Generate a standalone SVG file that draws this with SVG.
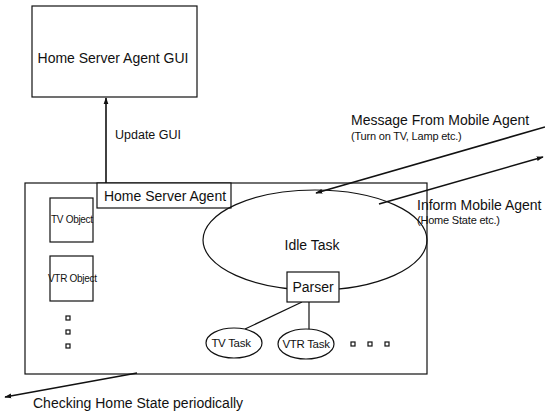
<svg xmlns="http://www.w3.org/2000/svg" width="545" height="414" viewBox="0 0 545 414">
<defs>
<style>
.box{fill:none;stroke:#111;stroke-width:1.2}
.wbox{fill:#fff;stroke:#111;stroke-width:1.2}
.ln{fill:none;stroke:#111;stroke-width:1.2}
.arw{fill:none;stroke:#111;stroke-width:1.6}
.t{font-family:"Liberation Sans",Arial,sans-serif;fill:#111}
.l{font-size:14px}
.m{font-size:11.5px;letter-spacing:-0.3px}
.s{font-size:11px;letter-spacing:-0.2px}
.o{font-size:10px;letter-spacing:-0.3px}
.dot{fill:#fff;stroke:#111;stroke-width:1.2}
</style>
<marker id="ah" viewBox="0 0 10 10" refX="9" refY="5" markerWidth="7" markerHeight="7" orient="auto" markerUnits="userSpaceOnUse">
<path d="M0,1.5 L10,5 L0,8.5 Z" fill="#111"/>
</marker>
</defs>
<rect width="545" height="414" fill="#fff"/>
<g id="gui">
<rect class="box" x="32" y="6" width="165" height="91"/>
<text class="t l" x="113" y="63" text-anchor="middle">Home Server Agent GUI</text>
</g>
<g id="main">
<rect class="box" x="25" y="183" width="402" height="191"/>
</g>
<g id="hsa">
<rect class="wbox" x="97" y="183" width="134" height="25"/>
<text class="t l" x="165" y="201" text-anchor="middle">Home Server Agent</text>
</g>
<g id="tvobj">
<rect class="box" x="50" y="198" width="43" height="44"/>
<text class="t o" x="51" y="223">TV Object</text>
</g>
<g id="vtrobj">
<rect class="box" x="50" y="256" width="43" height="45"/>
<text class="t o" x="48" y="282">VTR Object</text>
</g>
<g id="objdots">
<rect class="dot" x="66" y="316" width="4" height="4"/>
<rect class="dot" x="66" y="330" width="4" height="4"/>
<rect class="dot" x="66" y="344" width="4" height="4"/>
</g>
<g id="idle">
<ellipse class="box" cx="315" cy="240" rx="112" ry="50"/>
<text class="t l" x="312" y="250" text-anchor="middle">Idle Task</text>
</g>
<g id="connectors">
<line class="arw" x1="106" y1="183" x2="106" y2="98" marker-end="url(#ah)"/>
<line class="arw" x1="545" y1="127" x2="316" y2="193" marker-end="url(#ah)"/>
<line class="arw" x1="379" y1="204" x2="543" y2="157" marker-end="url(#ah)"/>
<line class="arw" x1="137" y1="373" x2="5" y2="397" marker-end="url(#ah)"/>
<line class="ln" x1="302" y1="302" x2="245" y2="329"/>
<line class="ln" x1="309" y1="302" x2="309" y2="330"/>
</g>
<g id="parser">
<rect class="wbox" x="287" y="272" width="52" height="30"/>
<text class="t l" x="313" y="292" text-anchor="middle">Parser</text>
</g>
<g id="tvtask">
<ellipse class="wbox" cx="234" cy="343" rx="28" ry="15"/>
<text class="t m" x="231" y="347" text-anchor="middle">TV Task</text>
</g>
<g id="vtrtask">
<ellipse class="wbox" cx="306" cy="344" rx="28" ry="15"/>
<text class="t m" x="306" y="348" text-anchor="middle">VTR Task</text>
</g>
<g id="taskdots">
<rect class="dot" x="351" y="342" width="4" height="4"/>
<rect class="dot" x="368" y="342" width="4" height="4"/>
<rect class="dot" x="385" y="342" width="4" height="4"/>
</g>
<g id="labels">
<text class="t l" x="115" y="139" style="font-size:12.5px">Update GUI</text>
<text class="t l" x="351" y="125">Message From Mobile Agent</text>
<text class="t s" x="351" y="140">(Turn on TV, Lamp etc.)</text>
<text class="t l" x="417" y="210">Inform Mobile Agent</text>
<text class="t s" x="417" y="224">(Home State etc.)</text>
<text class="t l" x="33" y="408">Checking Home State periodically</text>
</g>
</svg>
